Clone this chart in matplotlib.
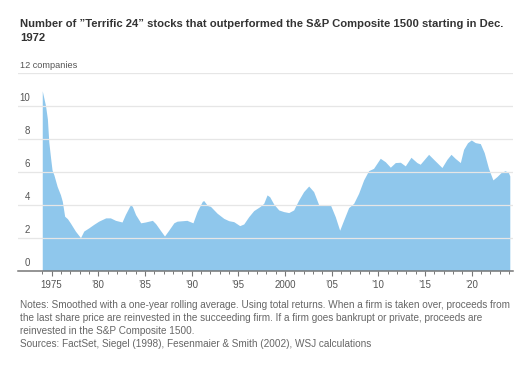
import matplotlib
matplotlib.use("Agg")
import matplotlib.pyplot as plt
import matplotlib.transforms as mtransforms
import numpy as np

# values (year, number of companies)
years = [1974.0, 1974.35, 1974.55, 1974.7, 1974.9, 1975.05, 1975.25, 1975.6, 1975.95, 1976.15,
         1976.4, 1976.7, 1977.0, 1977.55, 1978.1, 1978.45, 1979.0, 1979.5, 1980.05, 1980.8,
         1981.3, 1981.85, 1982.55, 1982.9, 1983.45, 1983.65, 1984.0, 1984.55, 1985.05, 1985.8,
         1986.15, 1986.65, 1987.1, 1987.55, 1988.1, 1988.45, 1989.5, 1990.15, 1990.6, 1991.15,
         1991.3, 1991.7, 1992.02, 1992.74, 1993.45, 1993.98, 1994.52, 1995.16, 1995.59, 1996.12,
         1996.66, 1997.31, 1997.73, 1998.09, 1998.37, 1998.8, 1999.34, 1999.87, 2000.41, 2000.94,
         2001.48, 2002.01, 2002.55, 2003.08, 2003.62, 2004.87, 2005.4, 2005.87, 2006.3, 2006.83,
         2007.37, 2007.9, 2008.44, 2008.97, 2009.5, 2010.22, 2010.76, 2011.3, 2011.83, 2012.37,
         2012.9, 2013.51, 2014.15, 2014.5, 2015.4, 2015.93, 2016.83, 2017.37, 2017.8, 2018.26,
         2018.8, 2019.15, 2019.57, 2019.97, 2020.4, 2020.94, 2021.36, 2021.82, 2022.29, 2022.72,
         2023.15, 2023.6, 2023.96, 2024.1]
companies = [10.9, 10.0, 9.2, 7.8, 6.8, 6.1, 5.8, 5.1, 4.6, 4.2,
             3.3, 3.15, 2.9, 2.4, 2.0, 2.4, 2.6, 2.8, 3.0, 3.2,
             3.2, 3.05, 2.95, 3.4, 4.0, 3.9, 3.4, 2.9, 2.95, 3.05,
             2.85, 2.45, 2.1, 2.45, 2.9, 3.0, 3.05, 2.9, 3.6, 4.2,
             4.25, 3.95, 3.9, 3.48, 3.17, 3.03, 2.97, 2.73, 2.83, 3.27,
             3.64, 3.88, 4.08, 4.59, 4.48, 4.04, 3.68, 3.58, 3.52, 3.68,
             4.28, 4.79, 5.13, 4.79, 4.0, 4.0, 3.27, 2.45, 3.07, 3.82,
             4.08, 4.69, 5.5, 6.06, 6.2, 6.81, 6.6, 6.27, 6.55, 6.57,
             6.35, 6.87, 6.55, 6.45, 7.05, 6.75, 6.25, 6.75, 7.05, 6.8,
             6.55, 7.35, 7.75, 7.92, 7.76, 7.7, 7.15, 6.2, 5.5, 5.7,
             5.94, 6.06, 5.94, 5.74]

ytick_vals = [0, 2, 4, 6, 8, 10]
xtick_years = [1975, 1980, 1985, 1990, 1995, 2000, 2005, 2010, 2015, 2020]
xtick_labels = ["1975", "\u201980", "\u201985", "\u201990", "\u201995", "2000",
                "\u201905", "\u201910", "\u201915", "\u201920"]

title = ("Number of \u201dTerrific 24\u201d stocks that outperformed the S&P Composite 1500 starting in Dec.\n"
         "1972")
notes = ("Notes: Smoothed with a one-year rolling average. Using total returns. When a firm is taken over, proceeds from\n"
         "the last share price are reinvested in the succeeding firm. If a firm goes bankrupt or private, proceeds are\n"
         "reinvested in the S&P Composite 1500.\n"
         "Sources: FactSet, Siegel (1998), Fesenmaier & Smith (2002), WSJ calculations")

plt.rcParams['font.family'] = ["Liberation Sans", "DejaVu Sans"]

fig = plt.figure(figsize=(5.23, 3.73), dpi=100)
ax = fig.add_axes([0.0344, 0.2743, 0.9466, 0.531])

ax.fill_between(years, companies, 0, color="#8fc7ec", lw=0, zorder=1)

ax.set_xlim(1971.4, 2024.45)
ax.set_ylim(0, 12)

# gridlines on top of the area
for v in ytick_vals[1:] + [12]:
    ax.axhline(v, color="#e6e6e6", lw=0.9, zorder=2)

for s in ["top", "right", "left"]:
    ax.spines[s].set_visible(False)
ax.spines["bottom"].set_color("#777777")
ax.spines["bottom"].set_linewidth(1.1)
ax.spines["bottom"].set_zorder(3)

ax.set_yticks([])
ax.set_xticks(xtick_years)
ax.set_xticklabels(xtick_labels)
ax.set_xticks(np.arange(1974, 2025), minor=True)
ax.tick_params(axis="x", which="major", length=3.5, width=0.8, color="#777777",
               labelsize=7.0, labelcolor="#555555", pad=3)
ax.tick_params(axis="x", which="minor", length=2, width=0.7, color="#777777")

trans = mtransforms.blended_transform_factory(ax.transAxes, ax.transData)
for v in ytick_vals:
    ax.text(0.024, v + 0.15, str(v), transform=trans, ha="right", va="bottom",
            fontsize=7.0, color="#555555")
ax.text(0.004, 12.15, "12 companies", transform=trans, ha="left", va="bottom",
        fontsize=6.6, color="#555555")

t_title = fig.text(0.038, 0.950, title, ha="left", va="top", fontsize=9.6,
                   fontweight="bold", color="#333333", linespacing=1.6)
t_notes = fig.text(0.038, 0.195, notes, ha="left", va="top", fontsize=8.3,
                   color="#666666", linespacing=1.38)

# shrink the two text blocks so their longest line fits the reference width
renderer = fig.canvas.get_renderer()
for t, target in [(t_title, 481), (t_notes, 494)]:
    w = t.get_window_extent(renderer).width
    if w > target:
        t.set_fontsize(t.get_fontsize() * target / w)

fig.savefig("out.png", dpi=100, facecolor="white")
